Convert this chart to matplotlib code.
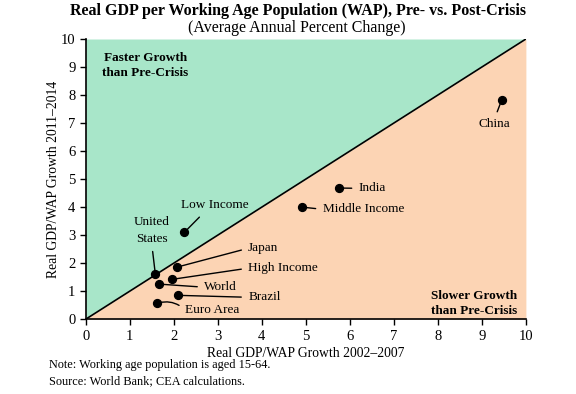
import matplotlib
matplotlib.use('Agg')
import matplotlib.pyplot as plt
import numpy as np

plt.rcParams['font.family'] = ['Liberation Serif', 'DejaVu Serif']

# data: pre-crisis (2002-2007) vs post-crisis (2011-2014) growth
names = ['China', 'India', 'Middle Income', 'Low Income', 'United\nStates',
         'Japan', 'High Income', 'World', 'Brazil', 'Euro Area']
pre = [9.45, 5.75, 4.91, 2.24, 1.58, 2.08, 1.96, 1.67, 2.09, 1.61]
post = [7.82, 4.68, 4.00, 3.10, 1.60, 1.86, 1.42, 1.25, 0.85, 0.56]

# label positions (data units) and how the leader line meets the text
lab_x = [9.29, 6.20, 5.38, 2.94, 1.50, 3.69, 3.69, 2.69, 3.69, 2.26]
lab_y = [6.95, 4.67, 3.92, 4.06, 3.17, 2.53, 1.82, 1.14, 0.78, 0.32]
lab_ha = ['center', 'left', 'left', 'center', 'center', 'left', 'left', 'left', 'left', 'left']
lab_rel = [(0.5, 1), (0, 0.5), (0, 0.5), (0.35, 0), (0.5, 0), (0, 0.5), (0, 0.5), (0, 0.5), (0, 0.5), (0, 0.5)]
lab_rad = [0, 0, 0, 0, 0, 0, 0, 0, 0, 0.3]

green = '#a8e6c9'
orange = '#fcd4b4'

fig = plt.figure(figsize=(5.76, 3.94), dpi=100)
ax = fig.add_axes([0.149, 0.190, 0.764, 0.711])

xx = np.array([0, 10])
ax.fill_between(xx, xx, 10, color=green, lw=0, zorder=0)
ax.fill_between(xx, 0, xx, color=orange, lw=0, zorder=0)
ax.plot(xx, xx, color='black', lw=1.2, zorder=1)

ax.scatter(pre, post, s=32, color='black', zorder=3)
for i in range(len(names)):
    ax.annotate(names[i], xy=(pre[i], post[i]), xytext=(lab_x[i], lab_y[i]),
                ha=lab_ha[i], va='center', fontsize=9.5, linespacing=1.5,
                arrowprops=dict(arrowstyle='-', color='black', lw=1.0,
                                relpos=lab_rel[i], shrinkA=3, shrinkB=2,
                                connectionstyle=f'arc3,rad={lab_rad[i]}'),
                zorder=4)

ax.text(1.35, 9.05, 'Faster Growth\nthan Pre-Crisis', ha='center', va='center',
        fontsize=9.5, fontweight='bold', linespacing=1.3)
ax.text(9.8, 0.55, 'Slower Growth\nthan Pre-Crisis', ha='right', va='center',
        fontsize=9.5, fontweight='bold', linespacing=1.3)

ax.set_xlim(0, 10)
ax.set_ylim(0, 10)
ax.set_xticks(range(11))
ax.set_yticks(range(11))
ax.tick_params(labelsize=10.5, direction='out', length=4, width=1)
for s in ['top', 'right']:
    ax.spines[s].set_visible(False)
ax.spines['left'].set_linewidth(1.2)
ax.spines['bottom'].set_linewidth(1.2)

ax.set_xlabel('Real GDP/WAP Growth 2002\u20132007', fontsize=9.8, labelpad=3)
ax.set_ylabel('Real GDP/WAP Growth 2011\u20132014', fontsize=9.8, labelpad=0.5)

fig.text(0.518, 0.972, 'Real GDP per Working Age Population (WAP), Pre- vs. Post-Crisis',
         ha='center', va='center', fontsize=11.55, fontweight='bold')
fig.text(0.516, 0.929, '(Average Annual Percent Change)', ha='center', va='center', fontsize=11.5)
fig.text(0.085, 0.074, 'Note: Working age population is aged 15-64.', ha='left', va='center', fontsize=8.8)
fig.text(0.085, 0.033, 'Source: World Bank; CEA calculations.', ha='left', va='center', fontsize=8.8)

fig.savefig('out.png', dpi=100)
